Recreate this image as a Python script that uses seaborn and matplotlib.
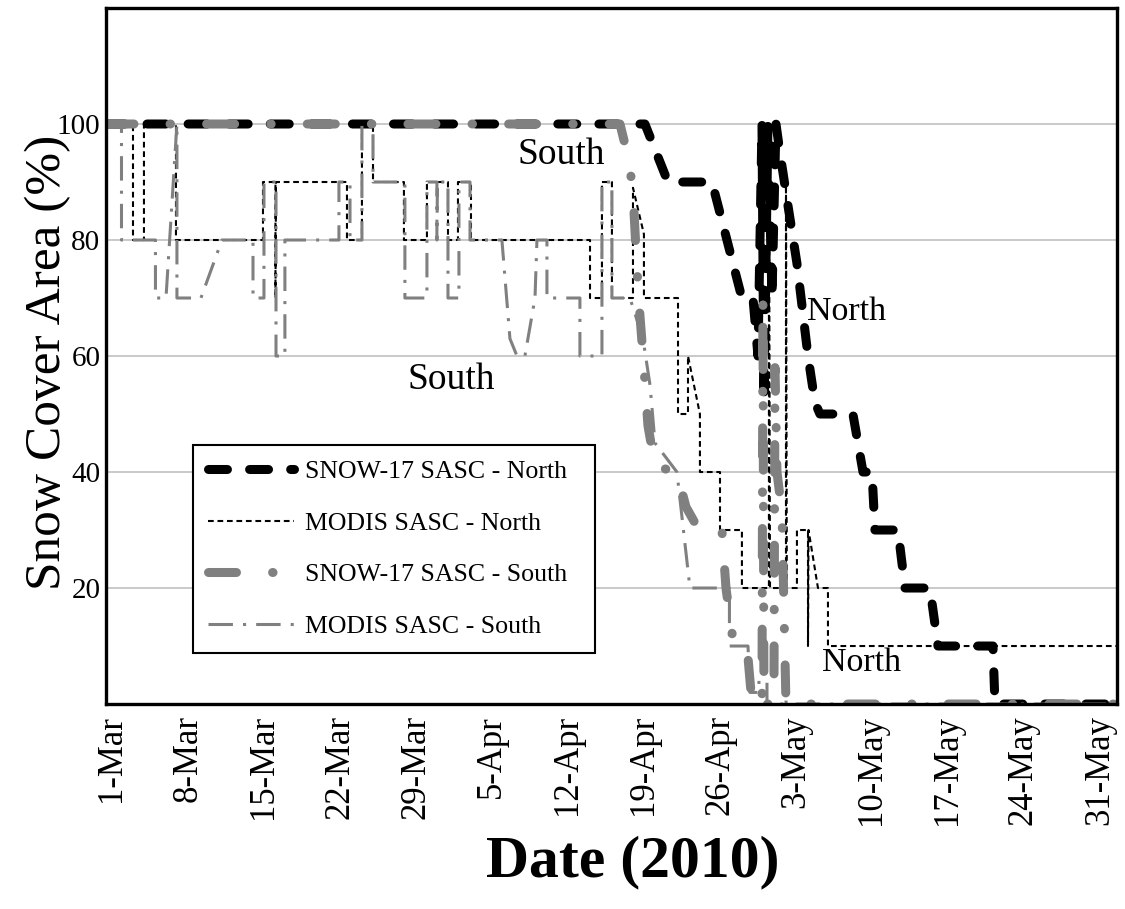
import matplotlib
matplotlib.use("Agg")
import matplotlib.pyplot as plt
import seaborn as sns

# x = days after 1-Mar-2010, y = snow covered area (%)
snow17_north_day = [-0.55, 49.12, 51.24, 54.65, 55.30, 58.06, 59.08, 59.54, 59.91, 60.09,
                    60.46, 60.83, 61.20, 61.57, 62.30, 63.13, 64.15, 64.79, 65.25, 68.29,
                    69.22, 70.05, 70.32, 72.44, 73.09, 75.39, 76.13, 81.20, 81.38, 92.63]
snow17_north_sca = [100, 100, 90, 90, 90, 70, 70, 60, 100, 52,
                    100, 70, 100, 95, 86, 76, 60, 52, 50, 50,
                    40, 40, 30, 30, 20, 20, 10, 10, 0, 0]

modis_north_day = [-0.55, 1.94, 1.94, 2.95, 2.95, 5.90, 5.90, 13.92, 13.92, 15.07,
                   15.07, 15.12, 21.66, 21.66, 23.04, 23.04, 24.06, 24.06, 26.91, 26.91,
                   29.03, 29.03, 30.97, 30.97, 31.89, 31.89, 33.09, 33.09, 44.06, 44.06,
                   45.16, 45.16, 46.08, 46.08, 48.02, 48.02, 49.03, 49.03, 52.17, 52.17,
                   53.09, 53.09, 54.19, 54.19, 56.04, 56.04, 58.06, 58.06, 60.55, 60.55,
                   60.65, 62.12, 62.12, 62.20, 63.13, 63.13, 64.15, 64.15, 64.20, 65.07,
                   65.99, 65.99, 92.63]
modis_north_sca = [100, 100, 80, 80, 100, 100, 80, 80, 90, 90,
                   70, 90, 90, 80, 80, 100, 100, 90, 90, 80,
                   80, 90, 90, 80, 80, 90, 90, 80, 80, 70,
                   70, 90, 90, 70, 70, 89, 81, 70, 70, 50,
                   50, 60, 50, 40, 40, 30, 30, 20, 20, 100,
                   20, 20, 92, 20, 20, 30, 30, 10, 30, 20,
                   20, 10, 10]

snow17_south_day = [-0.55, 46.82, 47.74, 48.11, 48.39, 48.66, 49.03, 49.40, 50.05, 52.07,
                    52.90, 54.10, 56.22, 56.59, 57.24, 58.53, 58.99, 59.91, 60.00, 60.09,
                    61.01, 61.11, 61.29, 61.75, 62.12, 92.63]
snow17_south_sca = [100, 100, 93, 85, 75, 67, 58, 48, 41, 40,
                    34, 30, 30, 20, 11, 10, 0, 0, 70, 0,
                    0, 58, 40, 33, 0, 0]

modis_south_day = [-0.55, 0.88, 0.88, 4.01, 4.01, 4.98, 5.99, 5.99, 8.20, 10.14,
                   13.00, 13.00, 14.01, 14.01, 15.12, 15.12, 15.94, 15.94, 20.92, 20.92,
                   21.94, 21.94, 23.04, 23.04, 24.06, 24.06, 27.00, 27.00, 29.03, 29.03,
                   29.95, 29.95, 30.00, 30.97, 30.97, 31.98, 31.98, 33.00, 33.00, 35.94,
                   36.68, 37.33, 38.06, 38.99, 39.17, 40.09, 40.09, 43.13, 43.13, 45.16,
                   45.16, 46.08, 46.08, 47.74, 48.94, 49.59, 50.05, 52.07, 53.27, 56.91,
                   56.91, 58.62, 58.80, 59.63, 59.63, 60.37, 60.37, 62.03, 62.08, 62.13,
                   92.63]
modis_south_sca = [100, 100, 80, 80, 70, 70, 100, 70, 70, 80,
                   80, 70, 70, 90, 90, 60, 60, 80, 80, 90,
                   90, 80, 80, 100, 100, 90, 90, 70, 70, 90,
                   90, 80, 90, 90, 70, 70, 90, 90, 80, 80,
                   63, 60, 60, 70, 80, 80, 70, 70, 60, 60,
                   90, 90, 70, 70, 63, 55, 45, 40, 20, 20,
                   10, 10, 2, 2, 4, 4, 0, 0, 4, 0,
                   0]

tick_days = [0, 7, 14, 21, 28, 35, 42, 49, 56, 63, 70, 77, 84, 91]
tick_labels = ["1-Mar", "8-Mar", "15-Mar", "22-Mar", "29-Mar", "5-Apr", "12-Apr",
               "19-Apr", "26-Apr", "3-May", "10-May", "17-May", "24-May", "31-May"]
y_ticks = [20, 40, 60, 80, 100]

sns.set_style("white")
plt.rcParams['font.family'] = ['Liberation Serif', 'DejaVu Serif']
plt.rcParams['text.color'] = 'black'
plt.rcParams['axes.labelcolor'] = 'black'
plt.rcParams['xtick.color'] = 'black'
plt.rcParams['ytick.color'] = 'black'

fig = plt.figure(figsize=(11.25, 9.09), dpi=100)
ax = fig.add_axes([0.0942, 0.2255, 0.8987, 0.7657])

sns.lineplot(x=snow17_north_day, y=snow17_north_sca, estimator=None, sort=False, ax=ax,
             color="black", linewidth=6.5, linestyle=(0, (2.1, 2.45)),
             dash_capstyle="round", label="SNOW-17 SASC - North")
sns.lineplot(x=modis_north_day, y=modis_north_sca, estimator=None, sort=False, ax=ax,
             color="black", linewidth=1.5, linestyle=(0, (2.75, 1.8)),
             label="MODIS SASC - North")
sns.lineplot(x=snow17_south_day, y=snow17_south_sca, estimator=None, sort=False, ax=ax,
             color="#808080", linewidth=6.5, linestyle=(0, (3.1, 4.0, 0.05, 4.0)),
             dash_capstyle="round", label="SNOW-17 SASC - South")
sns.lineplot(x=modis_south_day, y=modis_south_sca, estimator=None, sort=False, ax=ax,
             color="#808080", linewidth=2.2, linestyle=(0, (8, 3.3, 1, 3.3)),
             label="MODIS SASC - South")

ax.set_xlim(-0.55, 92.63)
ax.set_ylim(0, 120)
ax.set_xticks(tick_days)
ax.set_xticklabels(tick_labels, rotation=90, fontsize=25)
ax.set_yticks(y_ticks)
ax.set_yticklabels([str(v) for v in y_ticks], fontsize=21)
ax.tick_params(length=0)
ax.tick_params(axis="x", pad=8)
ax.tick_params(axis="y", pad=4)
ax.grid(axis="y", color="#c0c0c0", linewidth=1.2)
ax.grid(axis="x", visible=False)
ax.set_axisbelow(True)
for sp in ax.spines.values():
    sp.set_color("black")
    sp.set_linewidth(2.4)

ax.set_ylabel("Snow Cover Area (%)", fontsize=37)
ax.yaxis.set_label_coords(-0.034, 0.491)
ax.set_xlabel("Date (2010)", fontsize=43, fontweight="bold")
ax.xaxis.set_label_coords(0.521, -0.188)

ax.text(41.4, 94.7, "South", fontsize=27, ha="center", va="center")
ax.text(31.3, 55.9, "South", fontsize=27, ha="center", va="center")
ax.text(67.7, 67.6, "North", fontsize=24.5, ha="center", va="center")
ax.text(69.1, 7.2, "North", fontsize=24.5, ha="center", va="center")

# expand mode so the spare width ends up right of the labels
leg = ax.legend(loc="lower left", bbox_to_anchor=(0.086, 0.073, 0.3976, 0.29), mode="expand",
                fontsize=18.6, handlelength=3.3, handletextpad=0.45, labelspacing=1.1,
                borderpad=0.6, frameon=True, fancybox=False, edgecolor="black",
                framealpha=1, borderaxespad=0)
leg.get_frame().set_linewidth(1.5)

fig.savefig("out.png", dpi=100)
